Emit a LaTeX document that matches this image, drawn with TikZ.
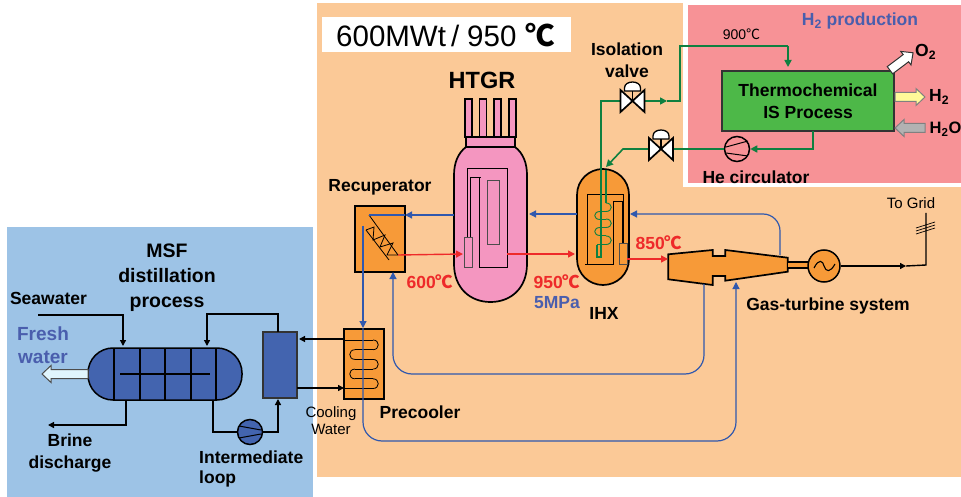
\documentclass[tikz,border=0pt]{standalone}
\usepackage{fontspec}
\setmainfont{Liberation Sans}
\newfontfamily\cjk{Noto Sans CJK SC}
\usetikzlibrary{arrows.meta}
\definecolor{plantbg}{HTML}{FBC997}
\definecolor{hydrobg}{HTML}{F79296}
\definecolor{desalbg}{HTML}{9DC3E6}
\definecolor{equip}{HTML}{F79A38}
\definecolor{corepink}{HTML}{F496C0}
\definecolor{isgreen}{HTML}{4DB848}
\definecolor{desalblue}{HTML}{4364AF}
\definecolor{coldblue}{HTML}{3058AE}
\definecolor{hotred}{HTML}{EE2A2A}
\definecolor{hegreen}{HTML}{0F8040}
\definecolor{textblue}{HTML}{4A5EAD}
\newcommand{\degc}{{\cjk ℃}}
\tikzset{
  boldlabel/.style={font=\fontsize{17.5}{22}\selectfont\bfseries,align=center,inner sep=0pt},
  thinlabel/.style={font=\fontsize{15}{17}\selectfont,align=center,inner sep=0pt},
  redlabel/.style={boldlabel,text=hotred},
  bluelabel/.style={boldlabel,text=textblue},
  coldline/.style={draw=coldblue,line width=1.2pt},
  coldarrow/.style={coldline,-{Triangle[length=7pt,width=7pt]}},
  hotarrow/.style={draw=hotred,line width=1.4pt,-{Triangle[length=7pt,width=7pt]}},
  heline/.style={draw=hegreen,line width=1.6pt},
  hearrow/.style={heline,-{Triangle[length=7pt,width=7pt]}},
  blackline/.style={draw=black,line width=1.3pt},
  blackarrow/.style={blackline,-{Triangle[length=6pt,width=6pt]}},
  equipbox/.style={draw=black,line width=1.7pt,fill=equip,inner sep=0pt},
  desalbox/.style={draw=black!80,line width=1.4pt,fill=desalblue,inner sep=0pt},
  rotor/.style={circle,draw=black,line width=1.5pt,inner sep=0pt,minimum size=25pt},
}
\newcommand{\isovalve}[2]{
\begin{scope}[shift={(#1,#2)}]
\draw[fill=white,line width=1.7pt] (-12,-11)--(12,11)--(12,-11)--(-12,11)--cycle;
\draw[line width=1.3pt] (0,0)--(0,-10);
\draw[fill=white,line width=1.3pt] (-8,-10)--(-8,-13) .. controls (-8,-21) and (8,-21) .. (8,-13)--(8,-10)--cycle;
\end{scope}}
\newcommand{\blockarrow}[6]{
\begin{scope}[shift={(#1,#2)},rotate=#3]
\draw[fill=#5,draw=#6,line width=1pt] (-#4,-4.5)--(#4-9,-4.5)--(#4-9,-8.5)--(#4,0)--(#4-9,8.5)--(#4-9,4.5)--(-#4,4.5)--cycle;
\end{scope}}
\newcommand{\rotorvanes}[5]{
\draw[line width=1pt] (#1.center)+(-11,#2)--+(11,#3);
\draw[line width=1pt] (#1.center)+(-11,#4)--+(11,#5);}

\begin{document}
\begin{tikzpicture}[x=1pt,y=-1pt]
\fill[white,use as bounding box] (0,0) rectangle (961,497);
\fill[plantbg] (317,3) rectangle (961,477);
\fill[white] (683,3) rectangle (961,187);
\fill[hydrobg] (688,5) rectangle (961,183);
\fill[desalbg] (7,227) rectangle (313,497);
\fill[white] (322,17) rectangle (571,52);
\node[anchor=west,inner sep=0pt,font=\fontsize{29.5}{32}\selectfont] (power) at (336,35) {600MWt\hspace{5pt}/\hspace{8pt}950\hspace{9pt}{\bfseries\degc}};

\coordinate (hgtA) at (454,215);
\coordinate (hgtB) at (405,215);
\coordinate (rcA) at (369,215);
\coordinate (rcB) at (398,255);
\coordinate (rcC) at (363,226);
\coordinate (rcD) at (393,272);
\coordinate (coreA) at (463,254);
\coordinate (coreB) at (507,254);
\coordinate (ihxA) at (575,254);
\coordinate (ihxB) at (577,214);
\coordinate (ihxC) at (529,214);
\coordinate (ihxD) at (630,214);
\coordinate (ihxE) at (627,259);
\coordinate (gtA) at (668,259);
\coordinate (gtB) at (780,255);
\coordinate (gtC) at (704,284);
\coordinate (gtD) at (736,282);
\coordinate (pcA) at (363,328);

% HTGR
\draw[fill=corepink,line width=1.7pt] (466,147) .. controls (458,153) and (454,163) .. (454,175) -- (454,264) .. controls (454,288) and (470,302) .. (490.5,302) .. controls (511,302) and (527,288) .. (527,264) -- (527,175) .. controls (527,163) and (523,153) .. (515,147) -- cycle;
\draw[fill=corepink,line width=1.5pt] (466,137) rectangle (515,147);
\foreach \rodx in {465,479.5,494,509}
  \draw[fill=corepink,line width=1.5pt] (\rodx,99) rectangle (\rodx+7,137);
\draw[line width=0.9pt] (467,238)--(467,168)--(507,168)--(507,267)--(479,267)--(479,177);
\draw[line width=0.9pt] (470,238)--(470,177)--(481,177);
\draw[fill=corepink,draw=black!70,line width=1pt] (464,238) rectangle (472,267);
\draw[fill=corepink,draw=black!70,line width=1pt] (487,181) rectangle (499,244);

% IHX
\draw[fill=equip,line width=1.7pt] (577,195) .. controls (577,180) and (589,169) .. (603,169) .. controls (617,169) and (629,180) .. (629,195) -- (629,259) .. controls (629,274) and (617,285) .. (603,285) .. controls (589,285) and (577,274) .. (577,259) -- cycle;
\draw[line width=0.9pt] (585,264)--(613,264)--(613,201)--(622,201)--(622,243);
\draw[line width=0.9pt] (587,264)--(587,194)--(623,194)--(623,243);
\draw[fill=equip,draw=black!70,line width=1pt] (619,243) rectangle (627,264);

% recuperator
\node[equipbox,minimum width=50pt,minimum height=66pt] (recup) at (380,239) {};
\draw[line width=0.8pt] (rcA)--(rcB);
\draw[line width=0.8pt] (366,230)--(389,260);
\draw[line width=0.8pt] (366,230)--(374,227)--(373,240)--(385,235)--(380,247)--(393,243)--(387,255)--(398,255);

% precooler
\node[equipbox,minimum width=40pt,minimum height=70pt] (precool) at (364,364) {};
\draw[line width=0.8pt] (344,340)--(373,340);
\foreach \rowy in {340,359.4,378.8}{
  \draw[line width=0.8pt] (373,\rowy) .. controls (380,\rowy) and (380,\rowy+9.7) .. (373,\rowy+9.7);
  \draw[line width=0.8pt] (355,\rowy+9.7)--(373,\rowy+9.7);
}
\foreach \rowy in {349.7,369.1}{
  \draw[line width=0.8pt] (355,\rowy) .. controls (348,\rowy) and (348,\rowy+9.7) .. (355,\rowy+9.7);
  \draw[line width=0.8pt] (355,\rowy+9.7)--(373,\rowy+9.7);
}
\draw[line width=0.8pt] (344,388.5)--(373,388.5);

% gas turbine
\draw[equipbox] (668.3,254.3)--(712.7,250)--(712.7,256)--(725.3,256)--(725.3,250)--(787.7,257.7)--(787.7,271.7)--(725.3,280.7)--(725.3,276)--(712.7,276)--(712.7,285)--(668.3,279.3)--cycle;
\draw[fill=equip,line width=1.1pt] (787.7,262) rectangle (809,268);
\node[rotor,fill=equip,minimum size=32pt] (gen) at (824,266) {};
\draw[line width=1.1pt] (814,268) .. controls (819,258) and (823,261) .. (824,266) .. controls (826,272) and (830,273) .. (835,264);
\coordinate (gridA) at (906,266);
\coordinate (gridB) at (926,265);
\coordinate (gridC) at (926,213);
\draw[blackarrow] (gen)--(gridA);
\draw[blackline,line width=1.4pt] (gridA)--(gridB)--(gridC);
\foreach \taby in {228,231,234}
  \draw[line width=0.7pt] (916,\taby)--(935,\taby-6);

% cold and hot gas
\draw[coldarrow] (hgtA)--(hgtB);
\draw[coldline] (hgtB)--(rcA);
\draw[coldarrow] (ihxB)--(ihxC);
\draw[coldarrow,rounded corners=17pt] (gtB)--(780,214)--(ihxD);
\draw[coldarrow] (rcC)--(pcA);
\draw[coldarrow,rounded corners=19pt] (pcA)--(363,441)--(736,441)--(gtD);
\draw[coldarrow,rounded corners=19pt] (gtC)--(704,374)--(393,374)--(rcD);
\draw[hotarrow] (rcB)--(coreA);
\draw[hotarrow] (coreB)--(ihxA);
\draw[hotarrow] (ihxE)--(gtA);

% hydrogen side
\node[draw=black!80,line width=1.2pt,fill=isgreen,minimum width=172pt,minimum height=60pt,inner sep=0pt] (isproc) at (808,101) {};
\node[rotor] (circ) at (737,149) {};
\rotorvanes{circ}{-2}{-8}{4}{7}
\coordinate (vlvA) at (621,101);
\coordinate (vlvB) at (645,101);
\coordinate (vlvC) at (649,149);
\coordinate (vlvD) at (673,149);
\coordinate (cornA) at (601,101);
\coordinate (cornB) at (601,257);
\coordinate (cornC) at (680,101);
\coordinate (cornD) at (680,46);
\coordinate (cornE) at (788,46);
\coordinate (isIn) at (788,67);
\coordinate (isOut) at (813,131);
\coordinate (cornF) at (813,149);
\coordinate (cornG) at (623,149);
\coordinate (ihxTop) at (606,167);
\draw[heline] (vlvA)--(cornA)--(cornB)--(597,257)--(597,245);
\draw[hearrow] (vlvB)--(667,101);
\draw[heline] (667,101)--(cornC)--(cornD)--(cornE);
\draw[hearrow] (cornE)--(isIn);
\draw[heline] (isOut)--(cornF)--(755,149);
\draw[hearrow] (cornF)--(circ);
\draw[heline] (circ)--(vlvD);
\draw[hearrow] (vlvC)--(cornG)--(ihxTop);
\draw[heline] (606,170)--(606,203);
\foreach \coily in {203,219,236}
  \draw[draw=hegreen,line width=0.9pt] (606,\coily) .. controls (613,\coily) and (613,\coily+8.5) .. (606,\coily+8.5);
\foreach \coily in {211.5,227.5}
  \draw[draw=hegreen,line width=0.9pt] (606,\coily)--(600,\coily) .. controls (593,\coily) and (593,\coily+8) .. (600,\coily+8)--(606,\coily+8);
\draw[draw=hegreen,line width=0.9pt] (606,244.5)--(597,244.5);
\isovalve{632.5}{101}
\isovalve{661}{149}
\blockarrow{901.5}{61.5}{37}{14.5}{white}{black!80}
\blockarrow{910}{97}{0}{15}{yellow!40!white}{black!50}
\blockarrow{910}{128}{180}{15}{black!30}{black!50}

% desalination
\node[desalbox,draw=black,line width=1.5pt,minimum width=154pt,minimum height=52pt,rounded corners=25pt] (msf) at (165,374) {};
\foreach \partx in {114,140,165,191,216}
  \draw[line width=1.4pt] (\partx,348)--(\partx,400);
\draw[line width=1.4pt] (120,374)--(210,374);
\node[desalbox,minimum width=34pt,minimum height=66pt] (hx) at (280,365) {};
\node[rotor,fill=desalblue] (pump) at (250,432) {};
\rotorvanes{pump}{-6}{-2}{6}{2}
\blockarrow{65}{374}{180}{23}{cyan!12!white}{black!70}
\coordinate (seaA) at (38,315);
\coordinate (seaB) at (123,315);
\coordinate (seaC) at (123,346);
\coordinate (loopA) at (278,332);
\coordinate (loopB) at (278,314);
\coordinate (loopC) at (207,314);
\coordinate (loopD) at (207,346);
\coordinate (loopE) at (213,400);
\coordinate (loopF) at (213,432);
\coordinate (loopG) at (278,432);
\coordinate (loopH) at (278,399);
\coordinate (brineA) at (126,400);
\coordinate (brineB) at (126,425);
\coordinate (brineC) at (48,425);
\draw[blackarrow] (seaA)--(seaB)--(seaC);
\draw[blackarrow] (loopA)--(loopB)--(loopC)--(loopD);
\draw[blackarrow] (brineA)--(brineB)--(brineC);
\draw[blackline] (loopE)--(loopF)--(pump);
\draw[blackarrow] (pump)--(loopG)--(loopH);
\coordinate (pcIn) at (344,339);
\coordinate (hxIn) at (299,339);
\coordinate (hxOut) at (297,388);
\coordinate (pcOut) at (344,388);
\draw[blackarrow] (pcIn)--(hxIn);
\draw[blackarrow] (hxOut)--(pcOut);

% labels
\node[boldlabel,font=\fontsize{23.5}{26}\selectfont\bfseries] (lblhtgr) at (482,80) {HTGR};
\node[boldlabel] (lblvalve) at (627,60) {Isolation\\valve};
\node[boldlabel] (lblis) at (808,101) {Thermochemical\\IS Process};
\node[boldlabel] (lblrec) at (380,187) {Recuperator};
\node[boldlabel] (lblcirc) at (756,177) {He circulator};
\node[bluelabel] (lblh2) at (860,21) {H\textsubscript{2} production};
\node[thinlabel,font=\fontsize{14}{16}\selectfont] (lbl900) at (741.5,34) {900\degc};
\node[boldlabel,anchor=west] (lblo2) at (915,52) {O\textsubscript{2}};
\node[boldlabel,anchor=west] (lblhh) at (929,97) {H\textsubscript{2}};
\node[boldlabel,anchor=west,font=\fontsize{16.5}{20}\selectfont\bfseries] (lblwat) at (929.5,129) {H\textsubscript{2}O};
\node[thinlabel] (lblgrid) at (911,203) {To Grid};
\node[boldlabel] (lblgas) at (828,306) {Gas-turbine system};
\node[redlabel] (lbl600) at (430,282) {600\degc};
\node[redlabel] (lbl950) at (557,282) {950\degc};
\node[redlabel] (lbl850) at (659,243) {850\degc};
\node[bluelabel] (lbl5mpa) at (557,303) {5MPa};
\node[boldlabel] (lblihx) at (604,313) {IHX};
\node[boldlabel] (lblpre) at (420,412) {Precooler};
\node[thinlabel] (lblcool) at (331,421) {Cooling\\Water};
\node[boldlabel,font=\fontsize{19.5}{25}\selectfont\bfseries] (lblmsf) at (167,278) {MSF\\distillation\\process};
\node[boldlabel] (lblsea) at (48.5,298) {Seawater};
\node[bluelabel,font=\fontsize{19}{23}\selectfont\bfseries] (lblfresh) at (43,345) {Fresh\\water};
\node[boldlabel] (lblbrine) at (70,453) {Brine\\discharge};
\node[boldlabel,align=left,anchor=west,font=\fontsize{17.5}{19.5}\selectfont\bfseries] (lblloop) at (199,469) {Intermediate\\loop};
\end{tikzpicture}
\end{document}
